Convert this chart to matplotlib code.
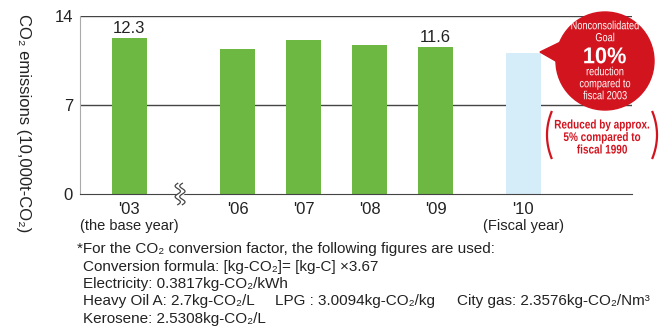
import numpy as np
import matplotlib
matplotlib.use("Agg")
from matplotlib import pyplot as plt
from matplotlib.patches import Ellipse, Polygon, PathPatch
from matplotlib.textpath import TextPath
from matplotlib.font_manager import FontProperties
from matplotlib.transforms import Affine2D
from matplotlib.lines import Line2D

plt.rcParams['font.family'] = ['Liberation Sans', 'DejaVu Sans']

# data
years = ["'03", "'06", "'07", "'08", "'09", "'10"]
emissions = [12.3, 11.4, 12.1, 11.7, 11.6, 11.1]
is_goal = [False, False, False, False, False, True]
value_labels = {0: "12.3", 4: "11.6"}
yticks = [0, 7, 14]

# layout (x positions leave a gap for the axis break)
xpos = [-1.64, 0, 1, 2, 3, 4.33]
green = '#6db843'
lightblue = '#d5ecf9'
red = '#d2141f'
W, H = 672, 333

fig = plt.figure(figsize=(W / 100, H / 100), dpi=100)
ax = fig.add_axes([80 / W, 1 - 194 / H, 552 / W, 178 / H])

colors = [lightblue if g else green for g in is_goal]
ax.bar(xpos, emissions, width=0.53, color=colors, zorder=2)

for i, txt in value_labels.items():
    ax.text(xpos[i], emissions[i] + 0.15, txt, ha='center', va='bottom',
            fontsize=12, color='#222222')

ax.set_xlim(-2.386, 5.977)
ax.set_ylim(0, 14)
ax.set_yticks(yticks)
ax.set_yticklabels([str(t) for t in yticks], fontsize=12, color='#222222')
ax.set_xticks(xpos)
ax.set_xticklabels(years, fontsize=12, color='#222222')
ax.tick_params(length=0, pad=6)
ax.tick_params(axis='y', pad=5)
for t in yticks[1:]:
    ax.axhline(t, color='#444444', lw=1, zorder=1)
for s in ['top', 'right']:
    ax.spines[s].set_visible(False)
ax.spines['bottom'].set_color('#444444')
ax.spines['left'].set_color('#aaaaaa')

ax.set_ylabel('CO\u2082 emissions (10,000t-CO\u2082)', rotation=-90, fontsize=12,
              color='#222222', va='center')
ax.yaxis.set_label_coords(-0.102, 0.4)

# sub labels under ticks
ax.text(xpos[0], -0.14, '(the base year)', transform=ax.get_xaxis_transform(),
        ha='center', va='top', fontsize=10.5, color='#222222')
ax.text(xpos[5], -0.14, '(Fiscal year)', transform=ax.get_xaxis_transform(),
        ha='center', va='top', fontsize=10.5, color='#222222')

# axis break marker
bx = -0.87
tt = np.linspace(-0.06, 0.06, 60)
wave = 0.04 * np.sin(tt / 0.06 * 2 * np.pi)
trans = ax.get_xaxis_transform()
ax.fill_betweenx(tt, bx - 0.035 + wave, bx + 0.035 + wave, color='white',
                 transform=trans, clip_on=False, zorder=5)
for off in (-0.035, 0.035):
    ax.plot(bx + off + wave, tt, color='#444444', lw=0.9, transform=trans,
            clip_on=False, zorder=6)


def ctext(x, y, s, size, color, weight='normal', sx=0.8):
    # horizontally condensed text drawn at pixel position (x, y from top)
    fp = FontProperties(family='Liberation Sans', weight=weight)
    tp = TextPath((0, 0), s, size=size, prop=fp)
    bb = tp.get_extents()
    k = 100 / 72
    tr = (Affine2D().translate(-(bb.x0 + bb.x1) / 2, -size * 0.36)
          .scale(sx * k, k).translate(x, H - y))
    fig.add_artist(PathPatch(tp, transform=tr, facecolor=color, lw=0, zorder=11))


# goal bubble
cx, cy, r = 605, 61, 49
fig.add_artist(Polygon([(540 / W, 1 - 52 / H), (575 / W, 1 - 35 / H),
                        (580 / W, 1 - 75 / H)], closed=True,
                       transform=fig.transFigure, color=red, zorder=10))
fig.add_artist(Ellipse((cx / W, 1 - cy / H), 2 * r / W, 2 * r / H,
                       transform=fig.transFigure, color=red, zorder=10))
ctext(cx, 25, 'Nonconsolidated', 8.5, 'white', sx=0.78)
ctext(cx, 37, 'Goal', 8.5, 'white', sx=0.78)
ctext(cx, 55, '10%', 16.5, 'white', weight='bold', sx=0.95)
ctext(cx, 71, 'reduction', 8.5, 'white', sx=0.78)
ctext(cx, 83, 'compared to', 8.5, 'white', sx=0.78)
ctext(cx, 95, 'fiscal 2003', 8.5, 'white', sx=0.78)

ctext(602, 124, 'Reduced by approx.', 9, red, weight='bold', sx=0.8)
ctext(602, 136.5, '5% compared to', 9, red, weight='bold', sx=0.8)
ctext(602, 149, 'fiscal 1990', 9, red, weight='bold', sx=0.8)

# brackets around the note
tp_ = np.linspace(-1, 1, 40)
for xc, sgn in ((547, 1), (657, -1)):
    xs = xc + sgn * 4.5 * tp_ ** 2
    ys = H - (135 + 23 * tp_)
    fig.add_artist(Line2D(xs, ys, transform=Affine2D(), color=red, lw=1.6,
                          zorder=11))

# footnote: (x pixel, line index, text)
notes = [
    (77, 0, '*For the CO\u2082 conversion factor, the following figures are used:'),
    (83, 1, 'Conversion formula: [kg-CO\u2082]= [kg-C] \u00d73.67'),
    (83, 2, 'Electricity: 0.3817kg-CO\u2082/kWh'),
    (83, 3, 'Heavy Oil A: 2.7kg-CO\u2082/L'),
    (275, 3, 'LPG : 3.0094kg-CO\u2082/kg'),
    (457, 3, 'City gas: 2.3576kg-CO\u2082/Nm\u00b3'),
    (83, 4, 'Kerosene: 2.5308kg-CO\u2082/L'),
]
for x, row, line in notes:
    fig.text(x / W, 1 - (249 + row * 17.5) / H, line, ha='left', va='center',
             fontsize=11, color='#222222')

fig.savefig('out.png', dpi=100)
